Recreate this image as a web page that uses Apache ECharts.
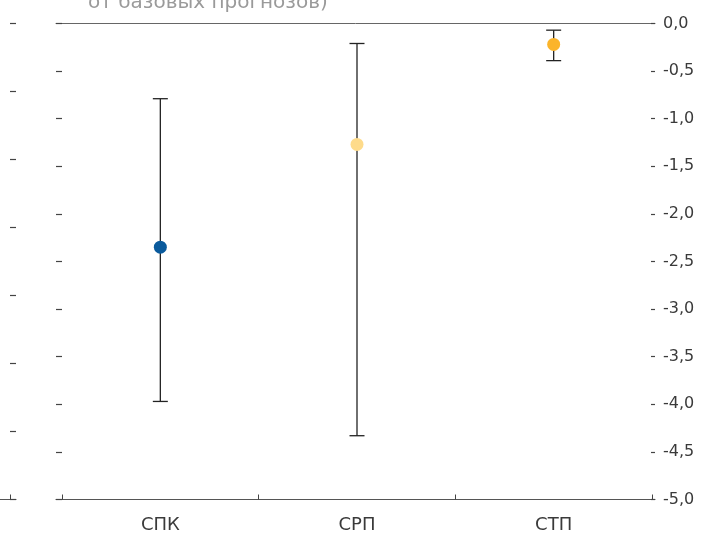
<!DOCTYPE html>
<html>
<head>
<meta charset="utf-8">
<script src="https://cdn.jsdelivr.net/npm/echarts@6/dist/echarts.min.js"></script>
<style>
  html, body { margin: 0; padding: 0; background: #fff; }
  #chart { width: 703px; height: 535px; }
</style>
</head>
<body>
<div id="chart"></div>
<script>
// Categories and estimates with their ranges (percentage points)
const categories = ['СПК', 'СРП', 'СТП'];
const centerValues = [-2.35, -1.27, -0.22];
const lowValues = [-3.97, -4.33, -0.39];
const highValues = [-0.79, -0.21, -0.07];
const pointColors = ['#0a5a9c', '#fedb8b', '#fbb42a'];

const FONT = '"DejaVu Sans", sans-serif';
const TOP = 23.5, BOTTOM = 35.5;

const chart = echarts.init(document.getElementById('chart'), null, { renderer: 'canvas' });

const fmt = v => (Math.round(v * 10) / 10).toFixed(1).replace('.', ',');

const option = {
  animation: false,
  graphic: [{
    type: 'text',
    left: 88,
    top: -7,
    style: {
      text: 'от базовых прогнозов)',
      fill: '#9a9a9a',
      font: '20px ' + FONT
    }
  }],
  grid: [
    // outer frame: horizontal rules and y-axes
    { left: 56, right: 48, top: TOP, bottom: BOTTOM, outerBoundsMode: 'none' },
    // category area for the estimates
    { left: 62, right: 51, top: TOP, bottom: BOTTOM, outerBoundsMode: 'none' },
    // edge of the neighbouring panel on the left
    { left: 0, right: 687, top: TOP, bottom: BOTTOM, outerBoundsMode: 'none' }
  ],
  xAxis: [
    {
      gridIndex: 0, type: 'value', min: 0, max: 1, position: 'bottom',
      axisLine: { show: true, onZero: false, lineStyle: { color: '#555', width: 1.2 } },
      axisTick: { show: false }, axisLabel: { show: false }, splitLine: { show: false }
    },
    {
      gridIndex: 0, type: 'value', min: 0, max: 1, position: 'top',
      axisLine: { show: true, onZero: false, lineStyle: { color: '#666', width: 1 } },
      axisTick: { show: false }, axisLabel: { show: false }, splitLine: { show: false }
    },
    {
      gridIndex: 1, type: 'category', data: categories, boundaryGap: true, position: 'bottom',
      axisLine: { show: false, onZero: false },
      axisTick: { show: true, inside: true, length: 5, lineStyle: { color: '#444', width: 1 } },
      axisLabel: { color: '#3a3a3a', fontFamily: FONT, fontSize: 18, margin: 17 },
      splitLine: { show: false }
    },
    {
      gridIndex: 2, type: 'value', min: 0, max: 16, position: 'bottom',
      axisLine: { show: true, onZero: false, lineStyle: { color: '#555', width: 1.2 } },
      axisTick: { show: true, inside: true, length: 5, customValues: [10], lineStyle: { color: '#444' } },
      axisLabel: { show: false }, splitLine: { show: false }
    }
  ],
  yAxis: [
    {
      gridIndex: 0, type: 'value', min: -5, max: 0, interval: 0.5, position: 'left',
      axisLine: { show: false, onZero: false },
      axisTick: { show: true, inside: true, length: 6, lineStyle: { color: '#444', width: 1.2 } },
      axisLabel: { show: false }, splitLine: { show: false }
    },
    {
      gridIndex: 0, type: 'value', min: -5, max: 0, interval: 0.5, position: 'right',
      axisLine: { show: false, onZero: false },
      axisTick: { show: true, inside: true, length: 4, lineStyle: { color: '#444', width: 1.2 } },
      axisLabel: { color: '#3a3a3a', fontFamily: FONT, fontSize: 16, margin: 8, formatter: fmt },
      splitLine: { show: false }
    },
    {
      gridIndex: 1, type: 'value', min: -5, max: 0, show: false,
      axisLine: { onZero: false }
    },
    {
      gridIndex: 2, type: 'value', min: 0, max: 7, interval: 1, position: 'right',
      axisLine: { show: false, onZero: false },
      axisTick: { show: true, inside: true, length: 6, lineStyle: { color: '#444', width: 1.2 } },
      axisLabel: { show: false }, splitLine: { show: false }
    }
  ],
  series: [
    {
      type: 'custom',
      xAxisIndex: 2, yAxisIndex: 2,
      data: categories.map((c, i) => [i, lowValues[i], highValues[i]]),
      encode: { x: 0, y: [1, 2] },
      renderItem: function (params, api) {
        const x = api.value(0);
        const lo = api.coord([x, api.value(1)]);
        const hi = api.coord([x, api.value(2)]);
        const half = 7.5;
        const style = { stroke: '#222', lineWidth: 1.3 };
        return {
          type: 'group',
          children: [
            { type: 'line', shape: { x1: hi[0], y1: hi[1], x2: lo[0], y2: lo[1] }, style },
            { type: 'line', shape: { x1: hi[0] - half, y1: hi[1], x2: hi[0] + half, y2: hi[1] }, style },
            { type: 'line', shape: { x1: lo[0] - half, y1: lo[1], x2: lo[0] + half, y2: lo[1] }, style }
          ]
        };
      },
      z: 2
    },
    {
      type: 'scatter',
      xAxisIndex: 2, yAxisIndex: 2,
      symbol: 'circle',
      symbolSize: 13,
      itemStyle: { opacity: 1 },
      data: categories.map((c, i) => ({
        value: [i, centerValues[i]],
        itemStyle: { color: pointColors[i], opacity: 1 }
      })),
      z: 3
    }
  ]
};

chart.setOption(option);
</script>
</body>
</html>
